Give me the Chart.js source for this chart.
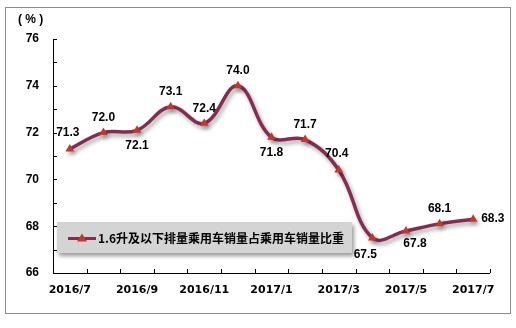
<!DOCTYPE html>
<html><head><meta charset="utf-8">
<script src="https://cdn.jsdelivr.net/npm/chart.js@4"></script>
<style>html,body{margin:0;padding:0;background:#fff}#wrap{width:516px;height:328px;position:relative}</style>
</head><body><div id="wrap"><canvas id="c" width="516" height="328"></canvas></div>
<script>
const categories = ['2016/7','2016/8','2016/9','2016/10','2016/11','2016/12','2017/1','2017/2','2017/3','2017/4','2017/5','2017/6','2017/7'];
const shareValues = [71.3, 72.0, 72.1, 73.1, 72.4, 74.0, 71.8, 71.7, 70.4, 67.5, 67.8, 68.1, 68.3];
const seriesName = '1.6升及以下排量乘用车销量占乘用车销量比重';
const yTicks = [66, 68, 70, 72, 74, 76];
const unitLabel = '( % )';
// label placement per point (style)
const labelPlace = ['aboveleft','above','below','above','above','above','below','above','aboveleft','belowleft','belowright','above','right'];

const lineColor = '#852c52';
const markerColor = '#c0392b';

const deco = {
  id: 'deco',
  beforeDatasetsDraw(chart) {
    const ctx = chart.ctx;
    ctx.save();
    ctx.shadowColor = 'rgba(0,0,0,0.35)';
    ctx.shadowBlur = 4;
    ctx.shadowOffsetX = 2;
    ctx.shadowOffsetY = 3;
  },
  afterDatasetsDraw(chart) {
    const ctx = chart.ctx;
    ctx.restore();
    const xs = chart.scales.x, ys = chart.scales.y;
    const ca = chart.chartArea;
    // axes
    ctx.save();
    ctx.strokeStyle = '#000';
    ctx.lineWidth = 1;
    ctx.beginPath();
    ctx.moveTo(Math.round(ca.left)+0.5, ca.top);
    ctx.lineTo(Math.round(ca.left)+0.5, Math.round(ca.bottom)+0.5);
    ctx.lineTo(ca.right, Math.round(ca.bottom)+0.5);
    ctx.stroke();
    // y ticks inside (every 1 unit)
    for (let v = ys.min; v <= ys.max; v += 1) {
      const y = Math.round(ys.getPixelForValue(v)) + 0.5;
      ctx.beginPath();
      ctx.moveTo(ca.left, y); ctx.lineTo(ca.left + 4, y); ctx.stroke();
    }
    // x ticks between categories
    const n = categories.length;
    for (let i = 0; i <= n; i++) {
      let x;
      if (i === 0) x = ca.left; else if (i === n) x = ca.right;
      else x = (xs.getPixelForValue(i - 1) + xs.getPixelForValue(i)) / 2;
      x = Math.round(x) + 0.5;
      ctx.beginPath();
      ctx.moveTo(x, ca.bottom); ctx.lineTo(x, ca.bottom - 4); ctx.stroke();
    }
    // data labels
    ctx.fillStyle = '#000';
    ctx.font = 'bold 12px "Liberation Sans", Arial, sans-serif';
    const meta = chart.getDatasetMeta(0);
    meta.data.forEach((pt, i) => {
      const txt = shareValues[i].toFixed(1);
      let x = pt.x, y = pt.y;
      const p = labelPlace[i];
      ctx.textAlign = 'center'; ctx.textBaseline = 'middle';
      if (p === 'above') y -= 15;
      else if (p === 'below') y += 15;
      else if (p === 'aboveleft') { y -= 16; x -= 2; }
      else if (p === 'belowleft') { y += 17; x -= 7; }
      else if (p === 'belowright') { y += 13; x += 9; }
      else if (p === 'right') { x += 8; ctx.textAlign = 'left'; }
      ctx.fillText(txt, x, y);
    });
    ctx.restore();
  },
  afterDraw(chart) {
    const ctx = chart.ctx;
    ctx.save();
    // outer border
    ctx.strokeStyle = '#8c8c8c';
    ctx.lineWidth = 1;
    ctx.strokeRect(5.5, 7.5, 505, 306);
    // unit label
    ctx.fillStyle = '#000';
    ctx.font = 'bold 12px "Liberation Sans", Arial, sans-serif';
    ctx.textAlign = 'left'; ctx.textBaseline = 'middle';
    ctx.fillText(unitLabel, 18, 20);
    // legend box
    const lx = 57, ly = 222, lw = 295, lh = 31;
    ctx.save();
    ctx.shadowColor = 'rgba(0,0,0,0.4)';
    ctx.shadowBlur = 4; ctx.shadowOffsetX = 2; ctx.shadowOffsetY = 3;
    ctx.fillStyle = '#d4d4d4';
    ctx.fillRect(lx, ly, lw, lh);
    ctx.restore();
    const cy = ly + lh / 2 + 1;
    ctx.strokeStyle = lineColor; ctx.lineWidth = 3;
    ctx.beginPath(); ctx.moveTo(68, cy); ctx.lineTo(96, cy); ctx.stroke();
    ctx.fillStyle = markerColor;
    ctx.beginPath(); ctx.moveTo(82, cy - 5); ctx.lineTo(87, cy + 3); ctx.lineTo(77, cy + 3); ctx.closePath(); ctx.fill();
    ctx.fillStyle = '#000';
    ctx.font = 'bold 12px "Noto Sans CJK SC", sans-serif';
    ctx.textBaseline = 'middle';
    ctx.fillText(chart.data.datasets[0].label, 98, cy);
    ctx.restore();
  }
};

new Chart(document.getElementById('c'), {
  type: 'line',
  data: {
    labels: categories,
    datasets: [{
      label: seriesName,
      data: shareValues,
      borderColor: lineColor,
      borderWidth: 3.5,
      tension: 0.4,
      cubicInterpolationMode: 'default',
      pointStyle: 'triangle',
      pointRadius: 5,
      pointBackgroundColor: markerColor,
      pointBorderColor: markerColor,
      pointBorderWidth: 0,
      fill: false
    }]
  },
  options: {
    responsive: false,
    animation: false,
    devicePixelRatio: 1,
    layout: { padding: { top: 39, right: 26, bottom: 0, left: 0 } },
    plugins: { legend: { display: false }, tooltip: { enabled: false } },
    scales: {
      x: {
        offset: true,
        grid: { display: false, drawTicks: false },
        border: { display: false },
        ticks: {
          autoSkip: false, maxRotation: 0, padding: 11,
          color: '#000',
          font: { family: '"DejaVu Sans", Verdana, sans-serif', weight: 'bold', size: 11 },
          callback: (v, i) => (i % 2 === 0 ? categories[i] : '')
        },
        afterFit: s => { s.height = 55; }
      },
      y: {
        min: 66, max: 76,
        afterBuildTicks: s => { s.ticks = yTicks.map(v => ({ value: v })); },
        grid: { display: false, drawTicks: false },
        border: { display: false },
        ticks: {
          padding: 14, color: '#000',
          font: { family: '"Liberation Sans", Arial, sans-serif', weight: 'bold', size: 12 }
        },
        afterFit: s => { s.width = 53; }
      }
    }
  },
  plugins: [deco]
});
</script></body></html>
